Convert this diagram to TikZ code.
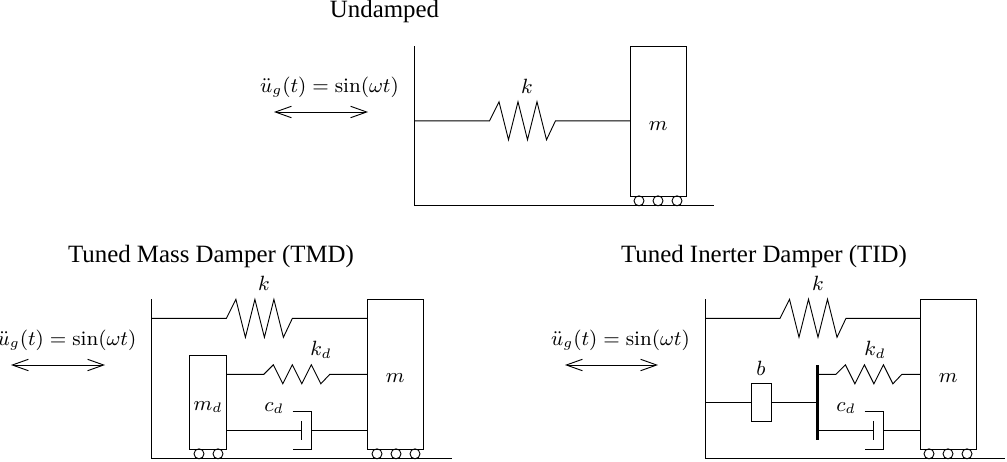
\documentclass[tikz,border=0pt]{standalone}
\usepackage{amsmath}
\usepackage{fontspec}
\newfontfamily\titlefont{Liberation Serif}
\usetikzlibrary{calc, arrows.meta}

\def\px{0.436pt}

\tikzset{
    every node/.style={font=\fontsize{9}{11}\selectfont},
    massbox/.style={draw, rectangle, inner sep=0pt, outer sep=0pt, minimum width=56*\px, minimum height=150*\px},
    smallbox/.style={draw, rectangle, inner sep=0pt, outer sep=0pt, minimum width=37*\px, minimum height=94*\px},
    inerterbox/.style={draw, rectangle, inner sep=0pt, outer sep=0pt, minimum width=20*\px, minimum height=38*\px},
    wheel/.style={draw, circle, inner sep=0pt, outer sep=0pt, minimum size=10*\px},
    titlenode/.style={font=\titlefont\fontsize{10.85}{13}\selectfont},
    shake/.style={{Straight Barb[length=7pt,width=5pt]}-{Straight Barb[length=7pt,width=5pt]}},
    spring/.style={to path={
        -- ($(\tikztostart)!.5!(\tikztotarget)+(-33,0)$)
        -- ++(9.5,-#1) -- ++(9.5,2*#1) -- ++(9.5,-2*#1) -- ++(9.5,2*#1)
        -- ++(9.5,-2*#1) -- ++(9.5,2*#1) -- ++(9,-#1) -- (\tikztotarget)}},
    pics/damper/.style={code={
        \coordinate (-l) at (0,0);
        \coordinate (-r) at (10,0);
        \draw (0,-9.5) -- (0,9.5);
        \draw (-9,-19) -- (10,-19) -- (10,19) -- (-9,19);
    }}
}

\begin{document}
\begin{tikzpicture}[x=\px, y=-\px]
    \useasboundingbox (0,0) rectangle (1007,461);

    % undamped
    \node[titlenode] (titleA) at (384.5,12) {Undamped};
    \node (loadA) at (329.5,87) {$\ddot{u}_g(t) = \sin(\omega t)$};
    \coordinate (arrowAl) at (274,112);
    \coordinate (arrowAr) at (368,112);
    \draw[shake] (arrowAl) -- (arrowAr);
    \coordinate (wallAtop) at (414.7,46);
    \coordinate (wallAbot) at (414.7,205.3);
    \coordinate (groundAend) at (713.7,205.3);
    \draw (wallAtop) -- (wallAbot) -- (groundAend);
    \node[massbox] (massA) at (658.3,121.3) {};
    \node (labelmA) at (658.3,126) {$m$};
    \foreach \x in {639,658,677} {
        \node[wheel] (wheelA\x) at (\x,200.8) {};
    }
    \coordinate (wallAk) at (414.7,120.8);
    \draw (wallAk) to[spring=19] (massA.west |- wallAk);
    \node (labelkA) at (527,86) {$k$};

    % tuned mass damper
    \node[titlenode] (titleB) at (211,257) {Tuned Mass Damper (TMD)};
    \node (loadB) at (67,340) {$\ddot{u}_g(t) = \sin(\omega t)$};
    \coordinate (arrowBl) at (11,365);
    \coordinate (arrowBr) at (105,365);
    \draw[shake] (arrowBl) -- (arrowBr);
    \coordinate (wallBtop) at (151.5,299);
    \coordinate (wallBbot) at (151.5,458.3);
    \coordinate (groundBend) at (451.7,458.3);
    \draw (wallBtop) -- (wallBbot) -- (groundBend);
    \node[massbox] (massB) at (395.3,374.3) {};
    \node (labelmB) at (395.3,378) {$m$};
    \node[smallbox] (tunedB) at (207.8,402.3) {};
    \node (labelmdB) at (208,407) {$m_d$};
    \foreach \x in {377,396,415} {
        \node[wheel] (wheelB\x) at (\x,453.8) {};
    }
    \foreach \x in {199,218} {
        \node[wheel] (wheelC\x) at (\x,453.8) {};
    }
    \coordinate (wallBk) at (151.5,318.3);
    \draw (wallBk) to[spring=19] (massB.west |- wallBk);
    \node (labelkB) at (264,283) {$k$};
    \coordinate (tunedBk) at (226.3,374.3);
    \draw (tunedBk) to[spring=9.5] (massB.west |- tunedBk);
    \node (labelkdB) at (321,350) {$k_d$};
    \pic (damperB) at (301.5,430.3) {damper};
    \draw (tunedB.east |- damperB-l) -- (damperB-l);
    \draw (damperB-r) -- (massB.west |- damperB-r);
    \node (labelcdB) at (274,408) {$c_d$};

    % tuned inerter damper
    \node[titlenode] (titleC) at (764,257) {Tuned Inerter Damper (TID)};
    \node (loadC) at (620.5,340) {$\ddot{u}_g(t) = \sin(\omega t)$};
    \coordinate (arrowCl) at (565,365);
    \coordinate (arrowCr) at (658,365);
    \draw[shake] (arrowCl) -- (arrowCr);
    \coordinate (wallCtop) at (705.7,299);
    \coordinate (wallCbot) at (705.7,458.3);
    \coordinate (groundCend) at (1005,458.3);
    \draw (wallCtop) -- (wallCbot) -- (groundCend);
    \node[massbox] (massC) at (948.3,374.3) {};
    \node (labelmC) at (948.3,378) {$m$};
    \foreach \x in {929,948,967} {
        \node[wheel] (wheelD\x) at (\x,453.8) {};
    }
    \coordinate (wallCk) at (705.7,318.3);
    \draw (wallCk) to[spring=19] (massC.west |- wallCk);
    \node (labelkC) at (818,283) {$k$};
    \coordinate (bartop) at (817.5,365);
    \coordinate (barbot) at (817.5,440);
    \draw[line width=3.6*\px] (bartop) -- (barbot);
    \node[inerterbox] (inerter) at (761,402.3) {};
    \node (labelb) at (761,368) {$b$};
    \draw (wallCtop |- inerter) -- (inerter.west);
    \draw (inerter.east) -- (bartop |- inerter);
    \coordinate (barCk) at (817.5,374.3);
    \draw (barCk) to[spring=9.5] (massC.west |- barCk);
    \node (labelkdC) at (875,350) {$k_d$};
    \pic (damperC) at (873.7,430.3) {damper};
    \draw (bartop |- damperC-l) -- (damperC-l);
    \draw (damperC-r) -- (massC.west |- damperC-r);
    \node (labelcdC) at (846,408) {$c_d$};
\end{tikzpicture}
\end{document}
